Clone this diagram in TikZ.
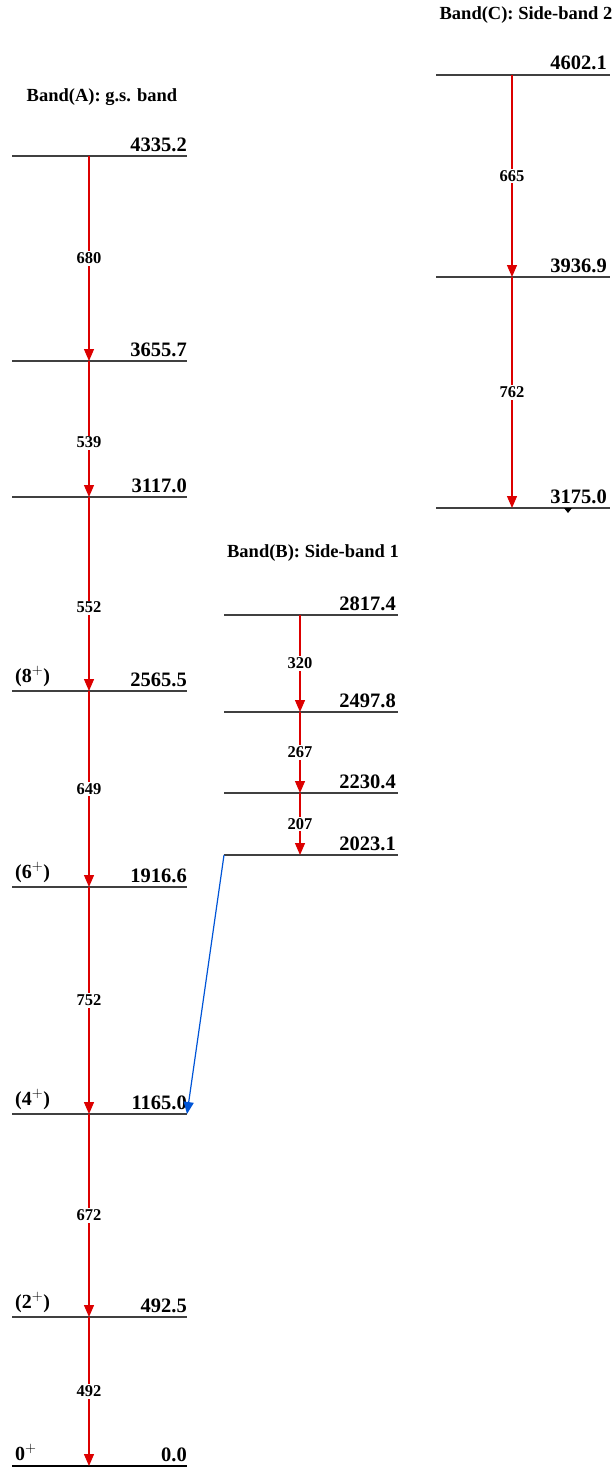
\documentclass[tikz,border=0pt]{standalone}
\usepackage{fontspec}
\setmainfont{Liberation Serif}
\usetikzlibrary{arrows.meta}
\definecolor{gred}{RGB}{220,0,0}
\definecolor{gblue}{RGB}{0,85,215}
\tikzset{
  level/.style={draw=black!75,line width=1.1pt},
  gamma/.style={draw=gred,line width=1.3pt,-{Triangle[width=10pt,length=12pt]}},
  elab/.style={anchor=base east,inner sep=0pt,font=\fontsize{20.5}{22}\selectfont\bfseries},
  spin/.style={anchor=base west,inner sep=0pt,font=\fontsize{20}{22}\selectfont\bfseries},
  glab/.style={fill=white,inner sep=1.5pt,font=\fontsize{16.5}{18}\selectfont\bfseries},
  band/.style={font=\fontsize{18.5}{20}\selectfont\bfseries},
}
\begin{document}
\begin{tikzpicture}[x=1pt,y=-1pt]
  \useasboundingbox (0,0) rectangle (615,1469);
  % band A: g.s. band
  \node[band] (bandA) at (102,97) {Band(A): g.s. band};
  \foreach \y/\e/\n in {156/4335.2/a8,361/3655.7/a7,497/3117.0/a6,691/2565.5/a5,
                        887/1916.6/a4,1114/1165.0/a3,1317/492.5/a2} {
    \coordinate (\n) at (89,\y);
    \coordinate (\n l) at (12,\y);
    \coordinate (\n r) at (187,\y);
    \draw[level] (\n l) -- (\n r);
    \node[elab] (\n lab) at (187,\y-5) {\e};
  }
  \coordinate (a1) at (89,1466);
  \coordinate (a1l) at (12,1466);
  \coordinate (a1r) at (187,1466);
  \draw[line width=2.4pt] (a1l) -- (a1r);
  \node[elab] (a1lab) at (187,1461) {0.0};
  \node[spin] (s8) at (15,682) {(8$^{+}$)};
  \node[spin] (s6) at (15,878) {(6$^{+}$)};
  \node[spin] (s4) at (15,1105) {(4$^{+}$)};
  \node[spin] (s2) at (15,1308) {(2$^{+}$)};
  \node[spin] (s0) at (15,1460) {0$^{+}$};
  \draw[gamma] (a8) -- (a7) node[glab,pos=.5] {680};
  \draw[gamma] (a7) -- (a6) node[glab,pos=.6] {539};
  \draw[gamma] (a6) -- (a5) node[glab,pos=.57] {552};
  \draw[gamma] (a5) -- (a4) node[glab,pos=.5] {649};
  \draw[gamma] (a4) -- (a3) node[glab,pos=.5] {752};
  \draw[gamma] (a3) -- (a2) node[glab,pos=.5] {672};
  \draw[gamma] (a2) -- (a1) node[glab,pos=.5] {492};

  % band B: side-band 1
  \node[band] (bandB) at (313,553) {Band(B): Side-band 1};
  \foreach \y/\e/\n in {615/2817.4/b4,712/2497.8/b3,793/2230.4/b2,855/2023.1/b1} {
    \coordinate (\n) at (300,\y);
    \coordinate (\n l) at (224,\y);
    \coordinate (\n r) at (398,\y);
    \draw[level] (\n l) -- (\n r);
    \node[elab] (\n lab) at (396,\y-5) {\e};
  }
  \draw[gamma] (b4) -- (b3) node[glab,pos=.5] {320};
  \draw[gamma] (b3) -- (b2) node[glab,pos=.5] {267};
  \draw[gamma] (b2) -- (b1) node[glab,pos=.5] {207};
  \draw[gblue,line width=1.2pt,-{Triangle[width=10pt,length=12pt]}] (b1l) -- (a3r);

  % band C: side-band 2
  \node[band] (bandC) at (526,15) {Band(C): Side-band 2};
  \foreach \y/\e/\n in {75/4602.1/c3,277/3936.9/c2,508/3175.0/c1} {
    \coordinate (\n) at (512,\y);
    \coordinate (\n l) at (436,\y);
    \coordinate (\n r) at (610,\y);
    \draw[level] (\n l) -- (\n r);
    \node[elab] (\n lab) at (607,\y-5) {\e};
  }
  \draw[gamma] (c3) -- (c2) node[glab,pos=.5] {665};
  \draw[gamma] (c2) -- (c1) node[glab,pos=.5] {762};
  \fill (564,508) -- (572,508) -- (568,513) -- cycle;
\end{tikzpicture}
\end{document}
